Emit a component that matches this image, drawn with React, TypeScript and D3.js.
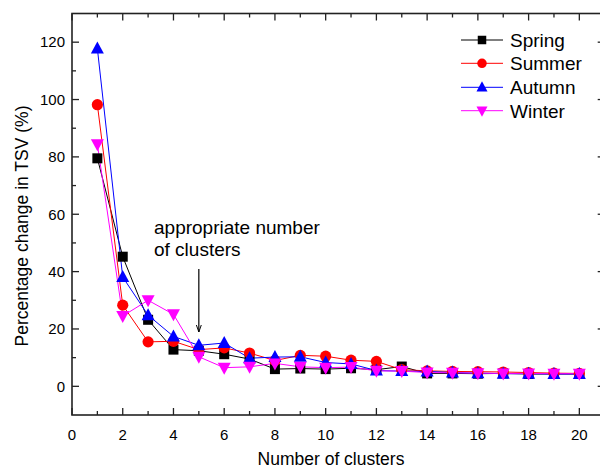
import React from "react";
import * as d3 from "d3";

const clusters = [1,2,3,4,5,6,7,8,9,10,11,12,13,14,15,16,17,18,19,20];
const spring = [79.5, 45.2, 23.2, 12.8, 12.4, 11.2, 9.5, 6.0, 6.2, 6.0, 6.3, 5.8, 6.9, 4.5, 4.5, 4.4, 4.5, 4.3, 4.3, 4.3];
const summer = [98.2, 28.3, 15.5, 15.7, 12.8, 13.4, 11.6, 9.0, 10.8, 10.5, 9.1, 8.7, 5.8, 5.4, 5.2, 5.1, 5.0, 4.8, 4.6, 4.5];
const autumn = [117.8, 38.1, 24.8, 17.4, 14.3, 15.1, 9.8, 10.2, 10.3, 8.3, 7.8, 5.5, 5.3, 5.2, 4.8, 4.6, 4.4, 4.4, 4.3, 4.3];
const winter = [84.4, 24.5, 30.0, 25.1, 10.3, 6.5, 6.8, 8.0, 6.8, 6.5, 6.7, 5.4, 5.3, 4.8, 4.7, 4.6, 4.5, 4.5, 4.4, 4.4];
const seriesNames = ["Spring", "Summer", "Autumn", "Winter"];
const xTicks = [0, 2, 4, 6, 8, 10, 12, 14, 16, 18, 20];
const yTicks = [0, 20, 40, 60, 80, 100, 120];
const annotation = ["appropriate number", "of clusters"];
const annotationX = 5;

const FONT = "'Liberation Sans', Arial, Helvetica, sans-serif";

const L = 72, R = 604.7, T = 13.5, B = 415;

export default function App() {
  const x = d3.scaleLinear().domain([0, 21]).range([L, R]);
  const y = d3.scaleLinear().domain([-10, 130]).range([B, T]);
  const data = [spring, summer, autumn, winter];
  const colors = ["#000000", "#ff0000", "#0000ff", "#ff00ff"];
  const line = d3.line<number>().x((_, i) => x(clusters[i])).y((v) => y(v));

  const marker = (k: number, cx: number, cy: number, key: string, s = 1) => {
    const c = colors[k];
    if (k === 0) return <rect key={key} x={cx - 5 * s} y={cy - 5 * s} width={10 * s} height={10 * s} fill={c} />;
    if (k === 1) return <circle key={key} cx={cx} cy={cy} r={5.6 * s} fill={c} />;
    if (k === 2) return <path key={key} d={`M${cx},${cy - 7 * s}L${cx + 6.5 * s},${cy + 5 * s}L${cx - 6.5 * s},${cy + 5 * s}Z`} fill={c} />;
    return <path key={key} d={`M${cx},${cy + 7 * s}L${cx + 6.5 * s},${cy - 5 * s}L${cx - 6.5 * s},${cy - 5 * s}Z`} fill={c} />;
  };

  const xMinor = d3.range(1, 21, 2);
  const yMinor = [10, 30, 50, 70, 90, 110];
  const axisColor = "#222";

  const legendY = [40, 63.3, 87.3, 110.7];

  return (
    <svg width={600} height={468} style={{ position: "absolute", left: 0, top: 0, background: "#fff" }} fontFamily={FONT}>
      <defs>
        <marker id="arr" viewBox="0 0 10 10" refX="10" refY="5" markerWidth="7" markerHeight="9" orient="auto" markerUnits="userSpaceOnUse">
          <path d="M0,1.5L10,5L0,8.5" fill="none" stroke="#000" strokeWidth={1.4} />
        </marker>
      </defs>
      {data.map((d, k) => (
        <path key={"l" + k} d={line(d) || ""} fill="none" stroke={colors[k]} strokeWidth={1} />
      ))}
      {data.map((d, k) => d.map((v, i) => marker(k, x(clusters[i]), y(v), `m${k}-${i}`)))}

      <rect x={L} y={T} width={R - L} height={B - T} fill="none" stroke={axisColor} strokeWidth={1.6} />
      {xTicks.map((t) => (
        <g key={"xt" + t}>
          <line x1={x(t)} x2={x(t)} y1={B} y2={B - 7} stroke={axisColor} strokeWidth={1.3} />
          <line x1={x(t)} x2={x(t)} y1={T} y2={T + 7} stroke={axisColor} strokeWidth={1.3} />
          <text x={x(t)} y={440} textAnchor="middle" fontSize={15} fill="#000">{t}</text>
        </g>
      ))}
      {xMinor.map((t) => (
        <g key={"xm" + t}>
          <line x1={x(t)} x2={x(t)} y1={B} y2={B - 4} stroke={axisColor} strokeWidth={1.3} />
          <line x1={x(t)} x2={x(t)} y1={T} y2={T + 4} stroke={axisColor} strokeWidth={1.3} />
        </g>
      ))}
      {yTicks.map((t) => (
        <g key={"yt" + t}>
          <line x1={L} x2={L + 7} y1={y(t)} y2={y(t)} stroke={axisColor} strokeWidth={1.3} />
          <line x1={R} x2={R - 7} y1={y(t)} y2={y(t)} stroke={axisColor} strokeWidth={1.3} />
          <text x={65} y={y(t) + 5.3} textAnchor="end" fontSize={15} fill="#000">{t}</text>
        </g>
      ))}
      {yMinor.map((t) => (
        <g key={"ym" + t}>
          <line x1={L} x2={L + 4} y1={y(t)} y2={y(t)} stroke={axisColor} strokeWidth={1.3} />
          <line x1={R} x2={R - 4} y1={y(t)} y2={y(t)} stroke={axisColor} strokeWidth={1.3} />
        </g>
      ))}

      <text x={331} y={465} textAnchor="middle" fontSize={17.5} fill="#000">Number of clusters</text>
      <text transform={`translate(28,226) rotate(-90)`} textAnchor="middle" fontSize={17.5} fill="#000">Percentage change in TSV (%)</text>

      <text x={154} y={234} fontSize={19} fill="#000">{annotation[0]}</text>
      <text x={154} y={256} fontSize={19} fill="#000">{annotation[1]}</text>
      <line x1={x(annotationX)} x2={x(annotationX)} y1={269} y2={332} stroke="#000" strokeWidth={1.2} markerEnd="url(#arr)" />

      {seriesNames.map((n, k) => (
        <g key={"lg" + k}>
          <line x1={461} x2={503} y1={legendY[k]} y2={legendY[k]} stroke={colors[k]} strokeWidth={1} />
          {marker(k, 482, legendY[k], "lgm" + k, 0.85)}
          <text x={510} y={legendY[k] + 7} fontSize={19} fill="#000">{n}</text>
        </g>
      ))}
    </svg>
  );
}
